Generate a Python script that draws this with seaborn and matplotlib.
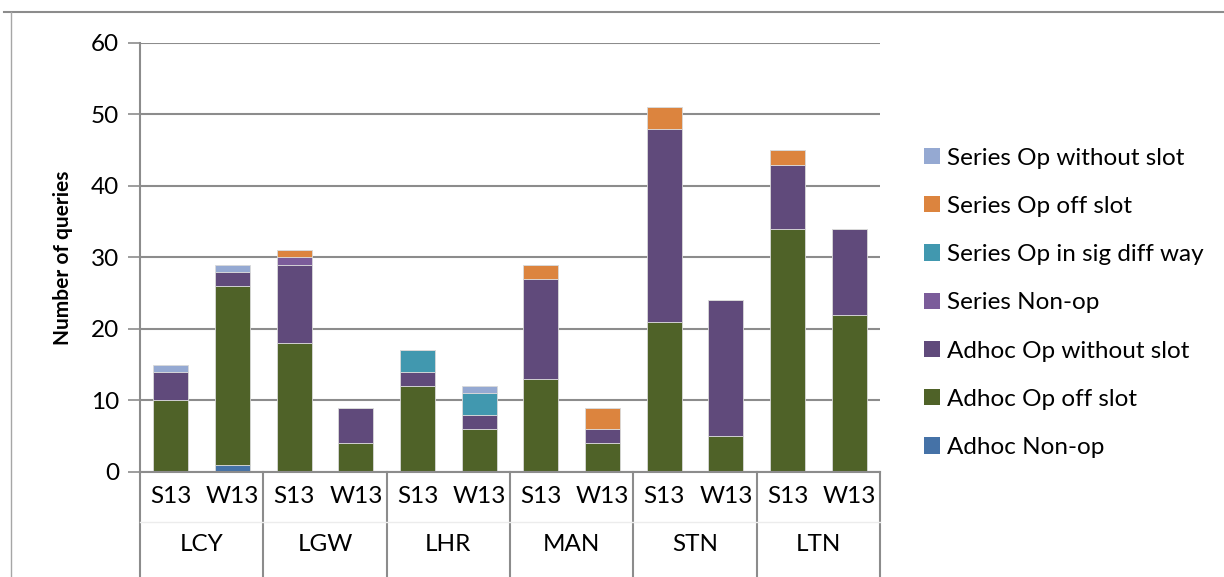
import numpy as np
import pandas as pd
import seaborn as sns
import matplotlib
matplotlib.use("Agg")
from matplotlib import pyplot as plt
from matplotlib.lines import Line2D
from matplotlib.patches import Patch

airports = ['LCY', 'LGW', 'LHR', 'MAN', 'STN', 'LTN']
seasons = ['S13', 'W13']

# stacked bottom -> top, one value per airport/season slot
series_names = ['Adhoc Non-op', 'Adhoc Op off slot', 'Adhoc Op without slot',
                'Series Non-op', 'Series Op in sig diff way', 'Series Op off slot',
                'Series Op without slot']
adhoc_nonop = [0, 1, 0, 0, 0, 0, 0, 0, 0, 0, 0, 0]
adhoc_off = [10, 25, 18, 4, 12, 6, 13, 4, 21, 5, 34, 22]
adhoc_without = [4, 2, 11, 5, 2, 2, 14, 2, 27, 19, 9, 12]
series_nonop = [0, 0, 1, 0, 0, 0, 0, 0, 0, 0, 0, 0]
series_sigdiff = [0, 0, 0, 0, 3, 3, 0, 0, 0, 0, 0, 0]
series_off = [0, 0, 1, 0, 0, 0, 2, 3, 3, 0, 2, 0]
series_without = [1, 1, 0, 0, 0, 1, 0, 0, 0, 0, 0, 0]

colors = ['#4572a7', '#4f6228', '#604a7b', '#7b5c9a', '#4198af', '#dc843e', '#95a9d2']

plt.rcParams['font.family'] = ['Lato', 'DejaVu Sans']

slots = [a + ' ' + s for a in airports for s in seasons]
values = [adhoc_nonop, adhoc_off, adhoc_without, series_nonop,
          series_sigdiff, series_off, series_without]

fig = plt.figure(figsize=(12.24, 5.77), dpi=100)
ax = fig.add_axes([0.1144, 0.182, 0.6046, 0.7435])

bottom = np.zeros(len(slots))
for name, vals, col in zip(series_names, values, colors):
    df = pd.DataFrame({'slot': slots, 'n': vals})
    sns.barplot(data=df, x='slot', y='n', order=slots, color=col, saturation=1,
                width=0.57, bottom=bottom, edgecolor='#d9d9d9', linewidth=0.6,
                errorbar=None, ax=ax)
    bottom = bottom + np.array(vals)

grid_c = '#8c8c8c'
ax.set_ylim(0, 60)
ax.set_xlim(-0.5, 11.5)
ax.set_yticks(range(0, 61, 10))
ax.yaxis.grid(True, color=grid_c, linewidth=1.5)
ax.set_axisbelow(True)
ax.tick_params(axis='y', length=9, width=1.2, color=grid_c, labelsize=17.5, pad=6)
ax.set_xticks([])
ax.set_xlabel('')
ax.set_ylabel('Number of queries', fontsize=15, fontweight='bold', labelpad=13)
for sp in ['top', 'right']:
    ax.spines[sp].set_visible(False)
for sp in ['left', 'bottom']:
    ax.spines[sp].set_color(grid_c)
    ax.spines[sp].set_linewidth(1.5)

# two-level category axis
tr = ax.get_xaxis_transform()
for b in np.arange(-0.5, 12, 2):
    ax.plot([b, b], [0, -0.3], transform=tr, color=grid_c, lw=1.5, clip_on=False)
ax.plot([-0.5, 11.5], [-0.117, -0.117], transform=tr, color='#ececec', lw=1, clip_on=False)
for i, s in enumerate(slots):
    ax.text(i, -0.058, s.split()[1], transform=tr, ha='center', va='center', fontsize=17.5)
for j, a in enumerate(airports):
    ax.text(2 * j + 0.5, -0.17, a, transform=tr, ha='center', va='center', fontsize=17.5)

handles = [Patch(facecolor=c, edgecolor='none') for c in colors][::-1]
fig.legend(handles, series_names[::-1], loc='upper left', bbox_to_anchor=(0.737, 0.782),
           frameon=False, fontsize=17.5, handlelength=0.65, handleheight=0.65,
           handletextpad=0.3, labelspacing=1.12)

# outer chart frame
fig.add_artist(Line2D([0.003, 1], [0.979, 0.979], color=grid_c, lw=1.5))
fig.add_artist(Line2D([0.009, 0.009], [0, 0.979], color='#a6a6a6', lw=1))

fig.savefig('out.png', dpi=100)
